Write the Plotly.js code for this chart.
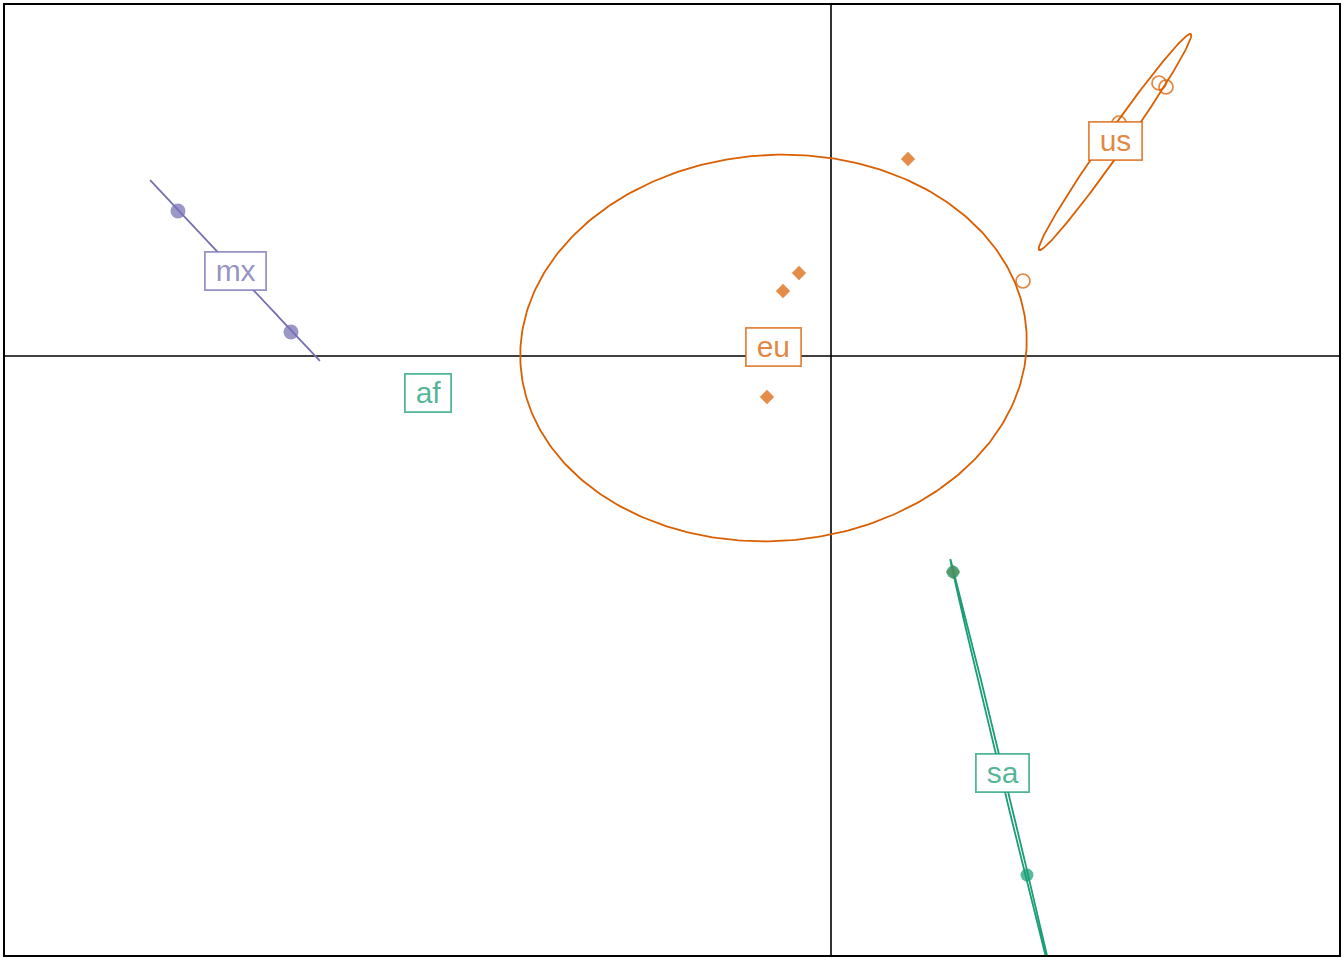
<!DOCTYPE html>
<html>
<head>
<meta charset="utf-8">
<script src="https://cdn.plot.ly/plotly-3.0.1.min.js"></script>
<style>html,body{margin:0;padding:0;background:#fff;}#chart{width:1344px;height:960px;}</style>
</head>
<body>
<div id="chart"></div>
<script>
// Groups and colours (Dark2-like)
var groups = ['af', 'eu', 'mx', 'sa', 'us'];
var groupColors = {af: '#1B9E77', eu: '#D95F02', mx: '#7570B3', sa: '#1B9E77', us: '#D95F02'};
var groupSymbols = {af: 'circle', eu: 'diamond', mx: 'circle', sa: 'circle', us: 'circle-open'};

// Point coordinates (axis 1, axis 2)
var euX = [0.77, -0.32, -0.48, -0.64, 1.22];
var euY = [1.97, 0.83, 0.65, -0.41, -2.16];
var usX = [2.88, 3.28, 3.35, 1.92];
var usY = [2.33, 2.73, 2.69, 0.75];
var mxX = [-6.53, -5.40];
var mxY = [1.45, 0.24];
var saX = [1.22, 1.96];
var saY = [-2.16, -5.19];
var afX = [-4.03];
var afY = [-0.37];

// Class label positions (group centres)
var labelX = [-4.03, -0.575, -5.96, 1.71, 2.84];
var labelY = [-0.37, 0.09, 0.85, -4.17, 2.15];

// Ellipse parameters: centre, semi-axes, angle (degrees)
var ellGroups = ['eu', 'us', 'mx', 'sa'];
var ellCX = [-0.575, 2.84, -5.96, 1.71];
var ellCY = [0.08, 2.14, 0.855, -4.17];
var ellA = [2.535, 1.32, 1.24, 2.20];
var ellB = [1.93, 0.10, 0.0, 0.016];
var ellAng = [4, 54.9, -46.8, -76.4];

function hexToRgba(hex, a) {
  var r = parseInt(hex.substr(1, 2), 16), g = parseInt(hex.substr(3, 2), 16), b = parseInt(hex.substr(5, 2), 16);
  return 'rgba(' + r + ',' + g + ',' + b + ',' + a + ')';
}

var traces = [];
// ellipses
for (var i = 0; i < ellGroups.length; i++) {
  var xs = [], ys = [];
  var th = ellAng[i] * Math.PI / 180;
  for (var k = 0; k <= 360; k++) {
    var t = k * Math.PI / 180;
    var u = ellA[i] * Math.cos(t), v = ellB[i] * Math.sin(t);
    xs.push(ellCX[i] + u * Math.cos(th) - v * Math.sin(th));
    ys.push(ellCY[i] + u * Math.sin(th) + v * Math.cos(th));
  }
  traces.push({x: xs, y: ys, type: 'scatter', mode: 'lines', hoverinfo: 'skip',
    line: {color: groupColors[ellGroups[i]], width: 1.8}, showlegend: false});
}

function pts(xs, ys, g, size) {
  var c = groupColors[g];
  var sym = groupSymbols[g];
  var marker = {symbol: sym, size: size};
  if (sym === 'circle-open') {
    marker.color = hexToRgba(c, 0.75);
    marker.line = {color: hexToRgba(c, 0.75), width: 1.7};
  } else {
    marker.color = hexToRgba(c, 0.72);
    marker.line = {width: 0};
  }
  return {x: xs, y: ys, type: 'scatter', mode: 'markers', marker: marker, showlegend: false, name: g};
}
traces.push(pts(euX, euY, 'eu', 11));
traces.push(pts(usX, usY, 'us', 14));
traces.push(pts(mxX, mxY, 'mx', 15));
traces.push(pts(saX, saY, 'sa', 13));
traces.push(pts(afX, afY, 'af', 12));

var annotations = [];
for (var j = 0; j < groups.length; j++) {
  var col = hexToRgba(groupColors[groups[j]], 0.75);
  annotations.push({
    x: labelX[j], y: labelY[j], xref: 'x', yref: 'y', showarrow: false,
    text: '\u00a0' + groups[j] + '\u00a0',
    font: {family: 'Liberation Sans, Arial, sans-serif', size: 30, color: col},
    bgcolor: '#ffffff', bordercolor: col, borderwidth: 1.8, borderpad: 1.5,
    xanchor: 'center', yanchor: 'middle'
  });
}

var layout = {
  width: 1344, height: 960,
  margin: {l: 4, r: 4, t: 4, b: 4},
  paper_bgcolor: '#ffffff', plot_bgcolor: '#ffffff',
  showlegend: false,
  xaxis: {range: [-8.27, 5.09], showgrid: false, zeroline: false, showticklabels: false, ticks: '', showline: false, fixedrange: true},
  yaxis: {range: [-6.00, 3.52], showgrid: false, zeroline: false, showticklabels: false, ticks: '', showline: false, fixedrange: true},
  shapes: [
    {type: 'line', xref: 'x', yref: 'paper', x0: 0, x1: 0, y0: 0, y1: 1, line: {color: '#000', width: 1.6}, layer: 'below'},
    {type: 'line', xref: 'paper', yref: 'y', x0: 0, x1: 1, y0: 0, y1: 0, line: {color: '#000', width: 1.6}, layer: 'below'},
    {type: 'rect', xref: 'paper', yref: 'paper', x0: 0, x1: 1, y0: 0, y1: 1, line: {color: '#000', width: 2}, layer: 'above'}
  ],
  annotations: annotations
};

Plotly.newPlot('chart', traces, layout, {staticPlot: true, displayModeBar: false});
</script>
</body>
</html>
